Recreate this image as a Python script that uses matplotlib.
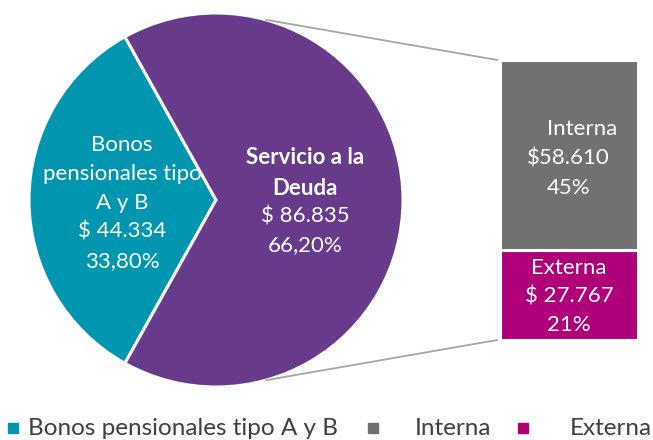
import matplotlib
matplotlib.use("Agg")
import matplotlib.pyplot as plt
import numpy as np
from matplotlib.patches import ConnectionPatch, Rectangle

plt.rcParams['font.family'] = ['Lato', 'DejaVu Sans']

# ---- data ----
pie_labels = ["Bonos pensionales tipo A y B", "Servicio a la Deuda"]
pie_values = [44.334, 86.835]
pie_pct_text = ["33,80%", "66,20%"]
pie_val_text = ["$ 44.334", "$ 86.835"]
bar_labels = ["Interna", "Externa"]
bar_values = [58.610, 27.767]
bar_val_text = ["$58.610", "$ 27.767"]
bar_pct_text = ["45%", "21%"]
legend_labels = ["Bonos pensionales tipo A y B", "Interna", "Externa"]

c_teal = "#0096AF"
c_purple = "#673B89"
c_gray = "#717073"
c_mag = "#AF0079"

FS = 16
LS = 1.55

W, H = 653, 440
fig = plt.figure(figsize=(W / 100, H / 100), dpi=100)
ax = fig.add_axes([0, 0, 1, 1])

cx, cy, r = 216, 240, 187
frac0 = pie_values[0] / sum(pie_values)
start = 180 - frac0 * 360 / 2
ax.pie(pie_values, colors=[c_teal, c_purple], startangle=start, counterclock=True,
       center=(cx, cy), radius=r, frame=True,
       wedgeprops=dict(edgecolor="white", linewidth=2.2))
ax.set_xlim(0, W)
ax.set_ylim(0, H)
ax.set_aspect("equal")
ax.axis("off")

# pie labels
ax.text(122, 440 - 203, "Bonos\npensionales tipo\nA y B\n" + pie_val_text[0] + "\n" + pie_pct_text[0],
        ha="center", va="center", color="white", fontsize=FS, linespacing=LS)
ax.text(305, 440 - 173, "Servicio a la\nDeuda", ha="center", va="center", color="white",
        fontsize=FS, fontweight="bold", linespacing=LS)
ax.text(305, 440 - 231, pie_val_text[1] + "\n" + pie_pct_text[1], ha="center", va="center",
        color="white", fontsize=FS, linespacing=LS)

# bar of pie
bx0, bx1, by_top, by_bot = 500, 638, 60, 340
bax = fig.add_axes([bx0 / W, (H - by_bot) / H, (bx1 - bx0) / W, (by_bot - by_top) / H])
total = sum(bar_values)
bax.bar([0], [bar_values[1]], bottom=0, width=1, color=c_mag, edgecolor="white", linewidth=2.2)
bax.bar([0], [bar_values[0]], bottom=bar_values[1], width=1, color=c_gray, edgecolor="white", linewidth=2.2)
bax.set_xlim(-0.5, 0.5)
bax.set_ylim(0, total)
bax.axis("off")

gc = bar_values[1] + bar_values[0] / 2
bax.text(0.095, gc + 8.0, bar_labels[0], ha="center", va="center", color="white", fontsize=FS)
bax.text(-0.005, gc - 5.6, bar_val_text[0] + "\n" + bar_pct_text[0],
         ha="center", va="center", color="white", fontsize=FS, linespacing=LS)
bax.text(0, bar_values[1] / 2 - 0.5, bar_labels[1] + "\n" + bar_val_text[1] + "\n" + bar_pct_text[1],
         ha="center", va="center", color="white", fontsize=FS, linespacing=LS)

# connector lines
ang = np.deg2rad(74.5)
for sgn, yb in [(1, 1), (-1, 0)]:
    pA = (cx + r * np.cos(ang), cy + sgn * r * np.sin(ang))
    con = ConnectionPatch(xyA=pA, coordsA=ax.transData, xyB=(-0.02, yb), coordsB=bax.transAxes,
                          color="#A6A6A6", linewidth=1.3)
    fig.add_artist(con)

# legend
leg_items = [(8, 28, c_teal), (368, 415, c_gray), (518, 570, c_mag)]
for (mx, tx, col), lab in zip(leg_items, legend_labels):
    ax.add_patch(Rectangle((mx, 440 - 433), 10, 10, color=col))
    ax.text(tx, 440 - 428, lab, ha="left", va="center", color="#404040", fontsize=17.5)

fig.savefig("out.png", dpi=100)
